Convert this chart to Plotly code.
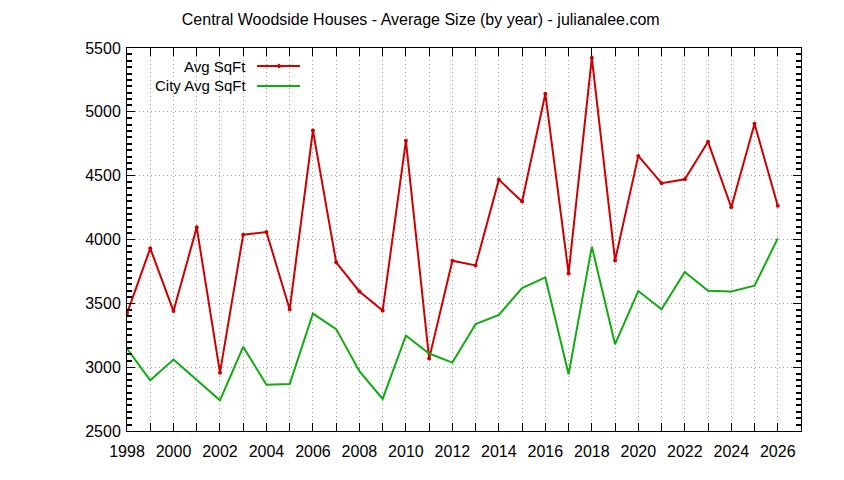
import plotly.graph_objects as go

years = list(range(1998, 2027))
avg_sqft = [3420, 3931, 3439, 4095, 2957, 4038, 4059, 3452, 4854, 3821,
            3593, 3444, 4773, 3067, 3834, 3797, 4469, 4297, 5142, 3734,
            5424, 3836, 4655, 4441, 4472, 4765, 4252, 4906, 4265]
city_avg_sqft = [3146, 2897, 3060, 2901, 2740, 3159, 2863, 2868, 3420, 3298,
                 2968, 2751, 3248, 3107, 3036, 3337, 3410, 3619, 3703, 2944,
                 3944, 3180, 3596, 3454, 3745, 3598, 3593, 3638, 4009]
series_names = ["Avg SqFt", "City Avg SqFt"]
tick_text = [str(y) if y % 2 == 0 else "" for y in years]

RED = "#cc0000"
GREEN = "#11aa11"
FONT = "Liberation Sans"

fig = go.Figure()
fig.add_trace(go.Scatter(
    x=years, y=avg_sqft, name=series_names[0], mode="lines+markers",
    line=dict(color=RED, width=2), marker=dict(color=RED, size=4),
))
fig.add_trace(go.Scatter(
    x=years, y=city_avg_sqft, name=series_names[1], mode="lines",
    line=dict(color=GREEN, width=2),
))

# gnuplot-style key: text right-aligned, sample line to the right
for i, (name, color) in enumerate(zip(series_names, [RED, GREEN])):
    yk = 0.953 - i * 0.052
    fig.add_annotation(text=name, xref="paper", yref="paper", x=0.1795, y=yk,
                       xanchor="right", yanchor="middle", showarrow=False,
                       font=dict(family=FONT, size=15, color="black"))
    fig.add_shape(type="line", xref="paper", yref="paper",
                  x0=0.193, x1=0.2567, y0=yk, y1=yk,
                  line=dict(color=color, width=2))
fig.add_shape(type="circle", xref="paper", yref="paper",
              x0=0.2238, x1=0.2272, y0=0.948, y1=0.958,
              fillcolor=RED, line=dict(color=RED, width=1))

axis_common = dict(
    showline=True, linecolor="black", linewidth=1, mirror="allticks",
    ticks="inside", ticklen=8, tickcolor="black", tickwidth=1,
    showgrid=True, gridcolor="#a8a8a8", griddash="1px,3px", gridwidth=1,
    zeroline=False, automargin=False,
    tickfont=dict(family=FONT, size=16, color="black"),
)

fig.update_xaxes(range=[1998, 2027], tickvals=years, ticktext=tick_text,
                 ticklabelstandoff=6, **axis_common)
fig.update_yaxes(range=[2500, 5500], tickmode="linear", tick0=2500, dtick=500,
                 ticklabelstandoff=2,
                 minor=dict(tickmode="linear", tick0=2500, dtick=50, ticks="inside",
                            ticklen=5, tickcolor="#000000", tickwidth=1.5, showgrid=False),
                 **axis_common)

# page body adds an 8px offset, so margins are trimmed to land the plot box
fig.update_layout(
    width=844, height=480,
    margin=dict(l=119, r=51, t=40, b=57),
    paper_bgcolor="white", plot_bgcolor="white",
    showlegend=False,
    title=dict(text="Central Woodside Houses - Average Size (by year) - julianalee.com",
               x=0.489, xref="container", xanchor="center",
               y=0.977, yref="container", yanchor="middle",
               font=dict(family=FONT, size=16, color="black")),
    font=dict(family=FONT),
)

fig.write_html("out.html")
